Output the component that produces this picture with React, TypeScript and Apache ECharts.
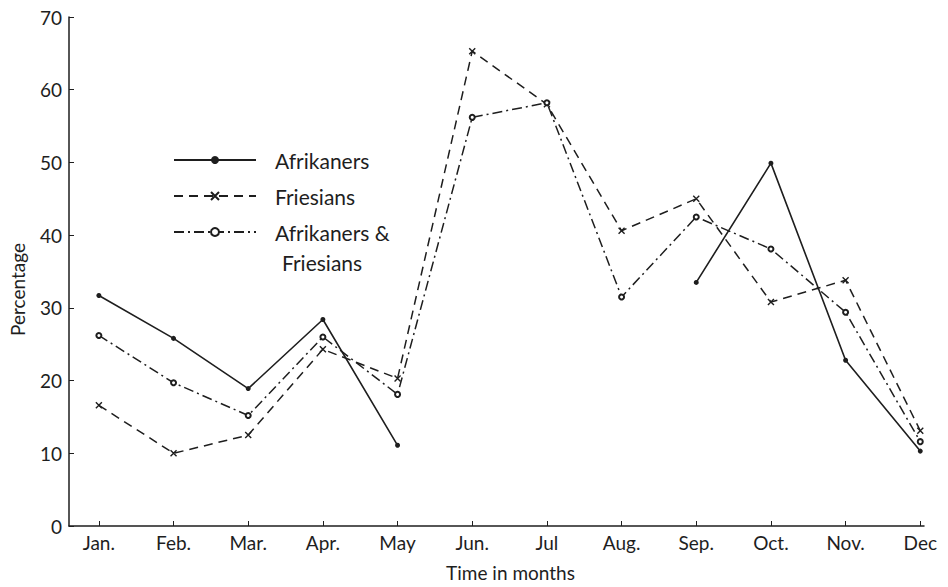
import React, { useEffect, useRef } from "react";
import * as echarts from "echarts";

const months = ["Jan.", "Feb.", "Mar.", "Apr.", "May", "Jun.", "Jul", "Aug.", "Sep.", "Oct.", "Nov.", "Dec"];
const afrikaners: (number | null)[] = [31.7, 25.8, 18.9, 28.4, 11.1, null, null, null, 33.5, 49.9, 22.8, 10.3];
const friesians: number[] = [16.6, 10.0, 12.5, 24.3, 20.3, 65.3, 58.0, 40.6, 45.0, 30.8, 33.8, 13.1];
const combined: number[] = [26.2, 19.7, 15.2, 26.0, 18.1, 56.2, 58.2, 31.5, 42.5, 38.1, 29.4, 11.6];
const yTicks = [0, 10, 20, 30, 40, 50, 60, 70];

const INK = "#1e1e1e";
const FONT = "Lato, 'Open Sans', sans-serif";

const toPairs = (arr: (number | null)[]) => arr.map((v, i) => [i, v === null ? "-" : v]);

export default function App() {
  const ref = useRef<HTMLDivElement>(null);
  useEffect(() => {
    if (!ref.current) return;
    const chart = echarts.init(ref.current, undefined, { renderer: "svg" });
    chart.setOption({
      animation: false,
      backgroundColor: "#fff",
      textStyle: { fontFamily: FONT, color: INK },
      grid: { left: 69, right: 24, top: 17, bottom: 60, containLabel: false },
      legend: {
        orient: "vertical",
        left: 168,
        top: 143,
        itemWidth: 82,
        itemHeight: 10,
        itemGap: 12,
        textStyle: { fontFamily: FONT, fontSize: 21, lineHeight: 24, color: INK, padding: [0, 0, 0, 14] },
        formatter: (name: string) => (name === "Afrikaners & Friesians" ? "Afrikaners &" : name),
        data: ["Afrikaners", "Friesians", "Afrikaners & Friesians"],
      },
      graphic: [
        {
          type: "text",
          left: 282,
          top: 252,
          style: { text: "Friesians", font: `21px ${FONT}`, fill: INK },
        },
      ],
      xAxis: {
        type: "value",
        min: -0.4,
        max: 11.05,
        name: "Time in months",
        nameLocation: "middle",
        nameGap: 37,
        nameTextStyle: { fontFamily: FONT, fontSize: 19, color: INK, padding: [0, 0, 0, 28] },
        splitLine: { show: false },
        axisLine: { show: true, onZero: false, lineStyle: { color: INK, width: 1.5 } },
        axisTick: { show: true, inside: true, length: 5, lineStyle: { color: INK }, customValues: months.map((_, i) => i) },
        axisLabel: {
          show: true,
          margin: 7,
          fontFamily: FONT,
          fontSize: 19,
          color: INK,
          customValues: months.map((_, i) => i),
          formatter: (v: number) => months[Math.round(v)] ?? "",
        },
      },
      yAxis: {
        type: "value",
        min: 0,
        max: 70,
        interval: 10,
        name: "Percentage",
        nameLocation: "middle",
        nameGap: 42,
        nameTextStyle: { fontFamily: FONT, fontSize: 19, color: INK, padding: [0, 36, 0, 0] },
        splitLine: { show: false },
        axisLine: { show: true, onZero: false, lineStyle: { color: INK, width: 1.5 } },
        axisTick: { show: true, inside: true, length: 5, lineStyle: { color: INK }, customValues: yTicks },
        axisLabel: { margin: 7, fontFamily: FONT, fontSize: 19, color: INK, customValues: yTicks },
      },
      series: [
        {
          name: "Afrikaners",
          type: "line",
          data: toPairs(afrikaners),
          connectNulls: false,
          symbol: "circle",
          symbolSize: 5,
          itemStyle: { color: INK },
          lineStyle: { color: INK, width: 1.6, type: "solid" },
        },
        {
          name: "Friesians",
          type: "line",
          data: toPairs(friesians),
          symbol: "path://M0,0L10,10M10,0L0,10",
          symbolSize: 6,
          itemStyle: { color: "none", borderColor: INK, borderWidth: 1.4 },
          lineStyle: { color: INK, width: 1.5, type: [9, 6] },
        },
        {
          name: "Afrikaners & Friesians",
          type: "line",
          data: toPairs(combined),
          symbol: "emptyCircle",
          symbolSize: 5,
          itemStyle: { color: INK, borderColor: INK, borderWidth: 1.2 },
          lineStyle: { color: INK, width: 1.5, type: [10, 4, 2, 4] },
        },
      ],
    });
    return () => chart.dispose();
  }, []);
  return <div ref={ref} style={{ width: 948, height: 587, position: "absolute", left: 0, top: 0 }} />;
}
